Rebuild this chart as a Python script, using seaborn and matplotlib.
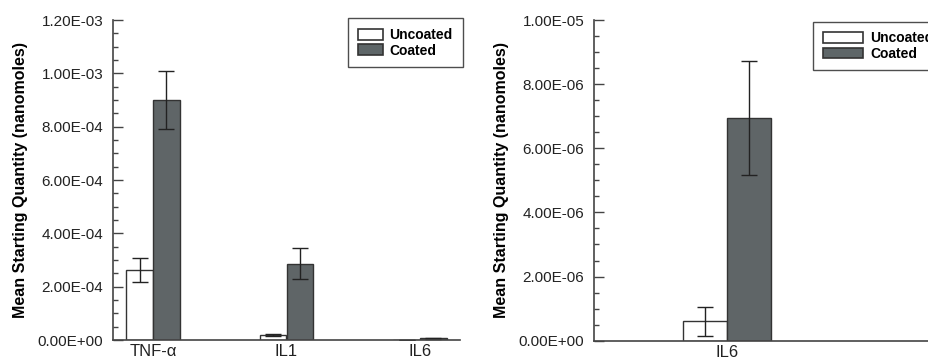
import numpy as np
import pandas as pd
import seaborn as sns
import matplotlib.pyplot as plt
from matplotlib.ticker import MultipleLocator

genes = ['TNF-α', 'IL1', 'IL6']
uncoated_mean = [2.63e-4, 1.9e-5, 6e-7]
uncoated_err = [4.6e-5, 3e-6, 4.5e-7]
coated_mean = [9.0e-4, 2.86e-4, 6.95e-6]
coated_err = [1.08e-4, 5.8e-5, 1.77e-6]

il6_genes = ['IL6']
il6_uncoated_mean = [6.1e-7]
il6_uncoated_err = [4.5e-7]
il6_coated_mean = [6.95e-6]
il6_coated_err = [1.77e-6]

groups = ['Uncoated', 'Coated']
palette = {'Uncoated': 'white', 'Coated': '#5e6668'}
edge = '#333333'

plt.rcParams['font.family'] = ['Liberation Sans', 'DejaVu Sans']


def make_df(names, um, ue, cm, ce):
    rows = []
    for i, g in enumerate(names):
        rows.append((g, 'Uncoated', um[i], ue[i]))
        rows.append((g, 'Coated', cm[i], ce[i]))
    return pd.DataFrame(rows, columns=['Gene', 'Group', 'Mean', 'Err'])


def sci_fmt(v, pos):
    return f'{v:.2E}'


def draw_panel(ax, df, width, ymax, major):
    sns.barplot(data=df, x='Gene', y='Mean', hue='Group', hue_order=groups,
                palette=palette, width=width, errorbar=None, edgecolor=edge,
                linewidth=1.0, ax=ax, legend=False)
    # error bars at the bar centres
    for grp, bars in zip(groups, ax.containers):
        sub = df[df['Group'] == grp]
        xs = [b.get_x() + b.get_width() / 2 for b in bars]
        ax.errorbar(xs, sub['Mean'], yerr=sub['Err'], fmt='none',
                    ecolor='#222222', elinewidth=1.0, capsize=5.5, capthick=1.0)
    ax.set_ylim(0, ymax)
    ax.yaxis.set_major_locator(MultipleLocator(major))
    ax.yaxis.set_minor_locator(MultipleLocator(major / 4))
    ax.yaxis.set_major_formatter(plt.FuncFormatter(sci_fmt))
    ax.tick_params(axis='y', which='major', direction='in', length=7,
                   width=1, color='#444444', labelsize=11, pad=7,
                   labelcolor='#222222')
    ax.tick_params(axis='y', which='minor', direction='in', length=3.5,
                   width=1, color='#444444')
    ax.tick_params(axis='x', length=0, labelsize=12, pad=3,
                   labelcolor='#222222')
    for s in ['top', 'right']:
        ax.spines[s].set_visible(False)
    for s in ['left', 'bottom']:
        ax.spines[s].set_color('#444444')
        ax.spines[s].set_linewidth(1.2)
    ax.set_xlabel('')
    ax.set_ylabel('Mean Starting Quantity (nanomoles)', fontsize=11.5,
                  fontweight='bold', labelpad=7)


fig = plt.figure(figsize=(9.29, 3.62), dpi=100)
ax1 = fig.add_axes([113 / 929, 22 / 362, 347 / 929, 320 / 362])
ax2 = fig.add_axes([594 / 929, 21.3 / 362, 336 / 929, 320.7 / 362])

df1 = make_df(genes, uncoated_mean, uncoated_err, coated_mean, coated_err)
draw_panel(ax1, df1, 0.4, 1.2e-3, 2e-4)
ax1.set_xlim(-0.30, 2.30)

df2 = make_df(il6_genes, il6_uncoated_mean, il6_uncoated_err,
              il6_coated_mean, il6_coated_err)
draw_panel(ax2, df2, 0.8, 1.0e-5, 2e-6)
ax2.set_xlim(-1.21, 1.84)

# the right-hand legend runs off the figure edge, as in the original
for ax, anchor, hl in ((ax1, (0.677, 1.005), 1.8), (ax2, (0.653, 0.995), 2.9)):
    handles = [plt.Rectangle((0, 0), 1, 1, facecolor=palette[g],
                             edgecolor=edge, linewidth=1.2) for g in groups]
    leg = ax.legend(handles, groups, loc='upper left', bbox_to_anchor=anchor,
                    frameon=True, fancybox=False, edgecolor='#222222',
                    prop={'weight': 'bold', 'size': 10}, handlelength=hl,
                    handleheight=0.8, handletextpad=0.5, labelspacing=0.1,
                    borderpad=0.7, borderaxespad=0)
    leg.get_frame().set_linewidth(1.0)

fig.savefig('out.png', dpi=100)
